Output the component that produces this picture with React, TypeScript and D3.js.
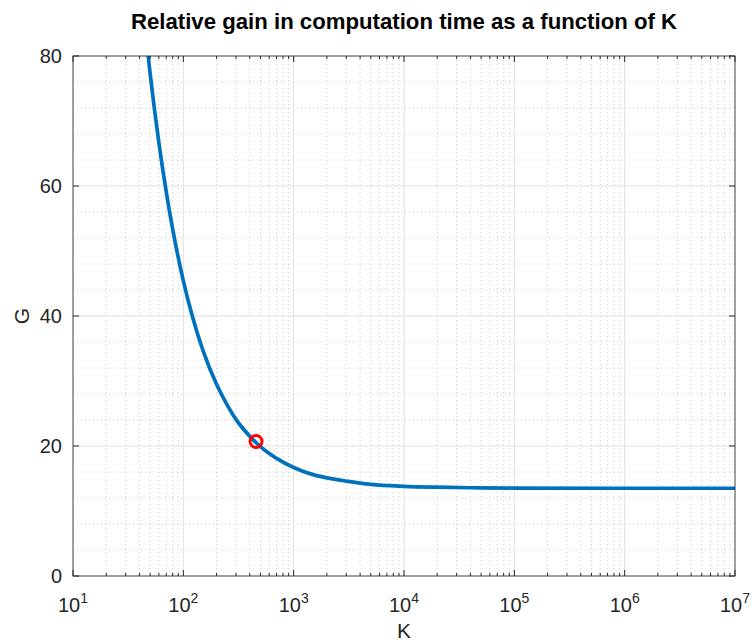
import React from 'react';
import * as d3 from 'd3';

// curve
const kValues = [45, 50, 60, 70, 80, 100, 120, 150, 200, 250, 300, 400, 500, 700, 1000, 1500, 2000, 3000, 5000, 1e4, 2e4, 5e4, 1e5, 1e6, 1e7];
const gValues = [84.4, 77.3, 66.7, 59.1, 53.4, 45.4, 40.1, 34.8, 29.5, 26.3, 24.1, 21.5, 19.9, 18.1, 16.7, 15.6, 15.1, 14.6, 14.1, 13.8, 13.66, 13.56, 13.53, 13.5, 13.5];
const markerK = [456];
const markerG = [20.7];
const xTickExps = [1, 2, 3, 4, 5, 6, 7];
const yTicks = [0, 20, 40, 60, 80];

const W = 752;
const H = 641;
const margin = { top: 56, right: 17, bottom: 65, left: 73 };
const FONT = '"Liberation Sans", Arial, sans-serif';
const AX = '#262626';

export default function App() {
  const iw = W - margin.left - margin.right;
  const ih = H - margin.top - margin.bottom;

  const x = d3.scaleLog().domain([10, 1e7]).range([0, iw]);
  const y = d3.scaleLinear().domain([0, 80]).range([ih, 0]);

  const minorX: number[] = [];
  for (let e = 1; e < 7; e++) {
    for (let m = 2; m <= 9; m++) minorX.push(m * Math.pow(10, e));
  }
  const minorY = d3.range(0, 81, 4).filter(v => v % 20 !== 0);

  const line = d3.line<number>()
    .x((_, i) => x(kValues[i]))
    .y(d => y(d))
    .curve(d3.curveMonotoneX);

  return (
    <svg width={W} height={H} style={{ position: 'absolute', left: 0, top: 0, background: '#fff' }}>
      <defs>
        <clipPath id="plot">
          <rect x={0} y={0} width={iw} height={ih} />
        </clipPath>
      </defs>
      <text x={margin.left + iw / 2} y={29} textAnchor="middle" fontFamily={FONT} fontWeight="bold" fontSize={22.2} fill="#000">
        Relative gain in computation time as a function of K
      </text>
      <g transform={`translate(${margin.left},${margin.top})`}>
        {/* minor grid */}
        {minorX.map(v => (
          <line key={'mx' + v} x1={x(v)} x2={x(v)} y1={0} y2={ih} stroke="#cccccc" strokeWidth={1} strokeDasharray="1,3" />
        ))}
        {minorY.map(v => (
          <line key={'my' + v} x1={0} x2={iw} y1={y(v)} y2={y(v)} stroke="#cccccc" strokeWidth={1} strokeDasharray="1,3" />
        ))}
        {/* major grid */}
        {xTickExps.map(e => (
          <line key={'gx' + e} x1={x(Math.pow(10, e))} x2={x(Math.pow(10, e))} y1={0} y2={ih} stroke="#e0e0e0" strokeWidth={1} />
        ))}
        {yTicks.map(v => (
          <line key={'gy' + v} x1={0} x2={iw} y1={y(v)} y2={y(v)} stroke="#e0e0e0" strokeWidth={1} />
        ))}

        {/* curve */}
        <g clipPath="url(#plot)">
          <path d={line(gValues) || ''} fill="none" stroke="#0072BD" strokeWidth={3.7} strokeLinejoin="round" />
        </g>
        {markerK.map((k, i) => (
          <circle key={'m' + i} cx={x(k)} cy={y(markerG[i])} r={6} fill="none" stroke="#ff0000" strokeWidth={3} />
        ))}

        {/* box */}
        <rect x={0} y={0} width={iw} height={ih} fill="none" stroke={AX} strokeWidth={1} opacity={0.8} />

        {/* x ticks */}
        {xTickExps.map(e => {
          const px = x(Math.pow(10, e));
          return (
            <g key={'xt' + e}>
              <line x1={px} x2={px} y1={ih} y2={ih - 6} stroke={AX} />
              <line x1={px} x2={px} y1={0} y2={6} stroke={AX} />
              <text x={px} y={ih + 36} textAnchor="middle" fontFamily={FONT} fontSize={20} fill={AX}>
                10<tspan dy={-9} fontSize={14}>{e}</tspan>
              </text>
            </g>
          );
        })}
        {minorX.map(v => (
          <g key={'mt' + v}>
            <line x1={x(v)} x2={x(v)} y1={ih} y2={ih - 3} stroke={AX} />
            <line x1={x(v)} x2={x(v)} y1={0} y2={3} stroke={AX} />
          </g>
        ))}

        {/* y ticks */}
        {yTicks.map(v => (
          <g key={'yt' + v}>
            <line x1={0} x2={6} y1={y(v)} y2={y(v)} stroke={AX} />
            <line x1={iw} x2={iw - 6} y1={y(v)} y2={y(v)} stroke={AX} />
            <text x={-11} y={y(v) + 7} textAnchor="end" fontFamily={FONT} fontSize={20} fill={AX}>
              {v}
            </text>
          </g>
        ))}

        <text x={iw / 2} y={ih + 62} textAnchor="middle" fontFamily={FONT} fontSize={21} fill={AX}>K</text>
        <text transform={`translate(${-44},${ih / 2}) rotate(-90)`} textAnchor="middle" fontFamily={FONT} fontSize={21} fill={AX}>G</text>
      </g>
    </svg>
  );
}
